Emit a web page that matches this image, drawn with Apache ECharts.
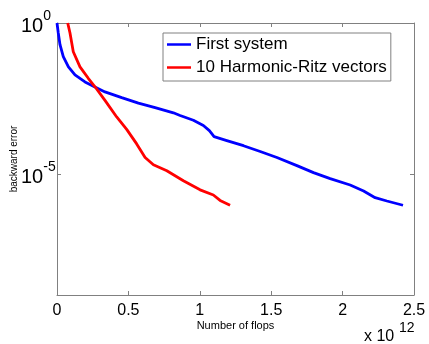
<!DOCTYPE html>
<html>
<head>
<meta charset="utf-8">
<script src="https://cdn.jsdelivr.net/npm/echarts@6/dist/echarts.min.js"></script>
<style>html,body{margin:0;padding:0;background:#fff}#c{width:429px;height:344px}</style>
</head>
<body>
<div id="c"></div>
<script>
// x in units of 1e12 flops
const seriesNames = ['First system', '10 Harmonic-Ritz vectors'];
const firstX = [0, 0.009, 0.021, 0.044, 0.08, 0.126, 0.196, 0.262, 0.336, 0.453, 0.57, 0.687, 0.815, 0.862, 0.955, 1.025, 1.067, 1.1, 1.189, 1.306, 1.423, 1.54, 1.68, 1.796, 1.913, 2.053, 2.147, 2.228, 2.31, 2.423];
const firstY = [1, 0.468, 0.191, 0.0776, 0.0355, 0.0191, 0.0112, 7.76e-3, 5.25e-3, 3.39e-3, 2.24e-3, 1.58e-3, 1.07e-3, 8.71e-4, 6.03e-4, 4.07e-4, 2.75e-4, 1.74e-4, 1.29e-4, 8.71e-5, 5.62e-5, 3.55e-5, 1.91e-5, 1.12e-5, 7.08e-6, 4.37e-6, 2.75e-6, 1.66e-6, 1.29e-6, 9.33e-7];
const ritzX = [0.075, 0.091, 0.114, 0.161, 0.219, 0.266, 0.336, 0.418, 0.488, 0.558, 0.617, 0.675, 0.769, 0.885, 1.002, 1.095, 1.142, 1.212];
const ritzY = [1, 0.468, 0.112, 0.0355, 0.0148, 7.76e-3, 2.75e-3, 7.76e-4, 3.02e-4, 1e-4, 3.55e-5, 2.04e-5, 1.29e-5, 6.03e-6, 3.02e-6, 2.04e-6, 1.35e-6, 9.33e-7];
const xTicks = [0, 0.5, 1, 1.5, 2, 2.5];
const yTickValues = [1, 1e-5];
const yMin = 1e-9, yMax = 1;

const FONT = 'Liberation Sans';
const AX = '#808080';
const pairs = (xs, ys) => xs.map((x, i) => [x, ys[i]]);

const chart = echarts.init(document.getElementById('c'), null, {renderer: 'canvas'});
const axisBase = {
  axisLine: {show: true, onZero: false, lineStyle: {color: AX, width: 1}},
  splitLine: {show: false}
};
chart.setOption({
  animation: false,
  backgroundColor: '#fff',
  grid: {left: 57, top: 23, right: 15, bottom: 49, containLabel: false, outerBoundsMode: 'none'},
  xAxis: [
    Object.assign({
      type: 'value', min: xTicks[0], max: xTicks[xTicks.length - 1], interval: 0.5, position: 'bottom',
      axisTick: {inside: true, length: 4, lineStyle: {color: AX}},
      axisLabel: {fontSize: 16, color: '#000', fontFamily: FONT, margin: 8},
      name: 'Number of flops', nameLocation: 'middle', nameGap: 25, nameMoveOverlap: false,
      nameTextStyle: {fontSize: 11, color: '#000', fontFamily: FONT}
    }, axisBase),
    Object.assign({
      type: 'value', min: xTicks[0], max: xTicks[xTicks.length - 1], interval: 0.5, position: 'top',
      axisTick: {inside: true, length: 4, lineStyle: {color: AX}},
      axisLabel: {show: false}
    }, axisBase)
  ],
  yAxis: [
    Object.assign({
      type: 'log', logBase: 10, min: yMin, max: yMax, position: 'left',
      axisTick: {inside: true, length: 4, lineStyle: {color: AX}, customValues: yTickValues},
      axisLabel: {
        customValues: yTickValues, align: 'left', margin: 36, padding: [6, 0, 0, 0],
        fontFamily: FONT, color: '#000',
        formatter: v => '{b|10}{s|' + Math.round(Math.log10(v)) + '}',
        rich: {
          b: {fontSize: 20, lineHeight: 20, verticalAlign: 'bottom', fontFamily: FONT, color: '#000'},
          s: {fontSize: 14, lineHeight: 14, padding: [0, 0, 13, 0], verticalAlign: 'bottom', fontFamily: FONT, color: '#000'}
        }
      },
      name: 'backward error', nameLocation: 'middle', nameGap: 38, nameRotate: 90, nameMoveOverlap: false,
      nameTextStyle: {fontSize: 10, color: '#000', fontFamily: FONT}
    }, axisBase),
    Object.assign({
      type: 'log', logBase: 10, min: yMin, max: yMax, position: 'right',
      axisTick: {inside: true, length: 4, lineStyle: {color: AX}, customValues: yTickValues},
      axisLabel: {show: false}
    }, axisBase)
  ],
  legend: {
    orient: 'vertical', left: 163, top: 33,
    data: seriesNames,
    icon: 'rect', itemWidth: 24, itemHeight: 2.5, itemGap: 6,
    padding: [3, 4, 5, 4],
    borderColor: AX, borderWidth: 1, backgroundColor: '#fff',
    textStyle: {fontSize: 17, color: '#000', fontFamily: FONT}
  },
  series: [
    {name: seriesNames[0], type: 'line', data: pairs(firstX, firstY), showSymbol: false, symbol: 'none',
     lineStyle: {color: '#0000ff', width: 2.8}, itemStyle: {color: '#0000ff'}, xAxisIndex: 0, yAxisIndex: 0},
    {name: seriesNames[1], type: 'line', data: pairs(ritzX, ritzY), showSymbol: false, symbol: 'none',
     lineStyle: {color: '#ff0000', width: 2.8}, itemStyle: {color: '#ff0000'}, xAxisIndex: 0, yAxisIndex: 0}
  ],
  graphic: [
    {type: 'text', left: 364, top: 329, style: {text: 'x 10', fontSize: 16, fill: '#000', fontFamily: FONT}},
    {type: 'text', left: 399, top: 321, style: {text: '12', fontSize: 14, fill: '#000', fontFamily: FONT}}
  ]
});
</script>
</body>
</html>
